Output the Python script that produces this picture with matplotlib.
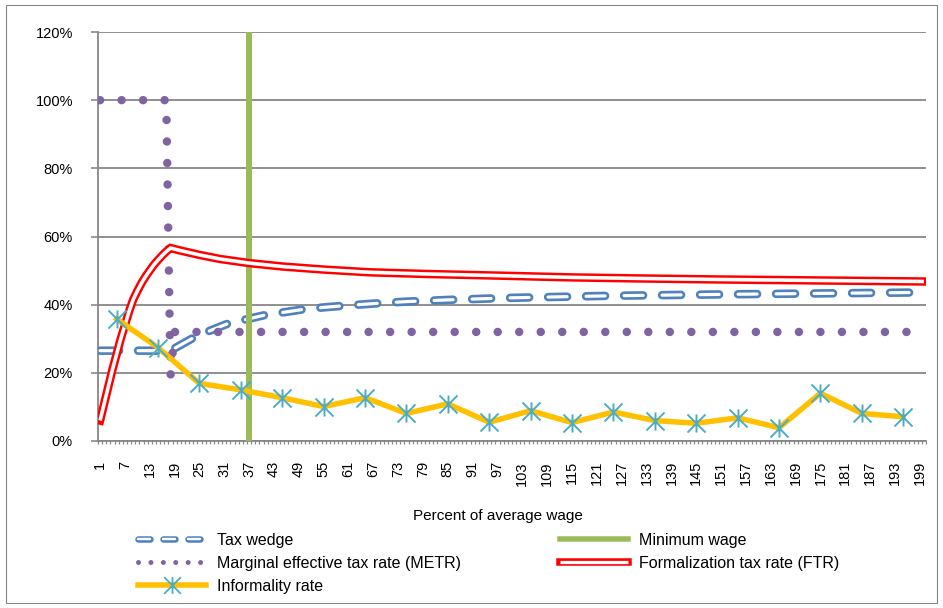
import matplotlib
matplotlib.use("Agg")
import matplotlib.pyplot as plt
from matplotlib.lines import Line2D
from matplotlib.path import Path
from matplotlib.patches import Rectangle
from matplotlib import font_manager

names = {f.name for f in font_manager.fontManager.ttflist}
base = "Liberation Sans" if "Liberation Sans" in names else "DejaVu Sans"
plt.rcParams["font.family"] = [base, "DejaVu Sans"]
plt.rcParams["lines.scale_dashes"] = False

# ---------------- data ----------------
categories = list(range(1, 201))
xtick_values = list(range(1, 200, 6))
xtick_labels = [str(v) for v in xtick_values]
ytick_values = [0, 20, 40, 60, 80, 100, 120]
ytick_labels = ["0%", "20%", "40%", "60%", "80%", "100%", "120%"]

tax_wedge_x = [1, 18, 24, 27, 32, 36, 41, 45, 50, 55, 60, 68, 75, 85, 100, 124, 150, 175, 200]
tax_wedge_y = [26.5, 26.5, 30.6, 32.1, 34.5, 35.6, 37.0, 37.7, 38.6, 39.2, 39.7, 40.4, 40.9,
               41.4, 42.0, 42.6, 43.0, 43.3, 43.6]

min_wage_x = 37
min_wage_y = [0, 120]

metr_x = [1, 17, 18, 19, 200]
metr_y = [100, 100, 19, 32, 32]

ftr_x = [1, 2, 3, 4, 5, 6, 7, 8, 9, 10, 11, 12, 13, 14, 15, 16, 17, 18,
         19, 20, 25, 30, 37, 45, 55, 66, 80, 98, 115, 131, 150, 175, 200]
ftr_y = [6.0, 11.0, 16.0, 21.0, 25.5, 30.0, 34.0, 38.0, 41.5, 44.0, 46.3, 48.3, 50.0, 51.7,
         53.1, 54.4, 55.6, 56.6, 56.3, 56.0, 54.6, 53.4, 52.2, 51.2, 50.3, 49.5, 49.0, 48.5,
         48.0, 47.7, 47.4, 47.1, 46.8]

informality_x = [5, 15, 25, 35, 45, 55, 65, 75, 85, 95, 105, 115, 125, 135, 145, 155, 165,
                 175, 185, 195]
informality_y = [35.8, 27.4, 16.9, 15.0, 12.7, 10.1, 12.7, 8.1, 10.9, 5.5, 8.9, 5.4, 8.5,
                 6.0, 5.2, 6.8, 3.9, 14.0, 8.1, 7.1]

labels = ["Tax wedge", "Minimum wage", "Marginal effective tax rate (METR)",
          "Formalization tax rate (FTR)", "Informality rate"]

# ---------------- styling ----------------
PX = 0.72  # points per pixel at dpi 100
C_TW = "#4F81BD"
C_MW = "#9BBB59"
C_METR = "#8064A2"
C_FTR = "#FF0000"
C_INF = "#FFC000"
C_STAR = "#4BACC6"
C_GRID = "#868686"

star = Path([(0, -1), (0, 1), (-1, -1), (1, 1), (-1, 1), (1, -1)],
            [Path.MOVETO, Path.LINETO, Path.MOVETO, Path.LINETO, Path.MOVETO, Path.LINETO])

W, H = 943, 608
fig = plt.figure(figsize=(W / 100, H / 100), dpi=100)
ax = fig.add_axes([98 / W, 1 - 441 / H, (926 - 98) / W, (441 - 32) / H])

# Tax wedge (double dashed)
tw_dash = (19 * PX, 19 * PX)
ax.plot(tax_wedge_x, tax_wedge_y, color=C_TW, lw=8.5 * PX, dashes=tw_dash,
        dash_capstyle="round", zorder=3)
ax.plot(tax_wedge_x, tax_wedge_y, color="white", lw=3.2 * PX, dashes=tw_dash,
        dash_capstyle="round", zorder=3.1)

# Minimum wage
ax.plot([min_wage_x, min_wage_x], min_wage_y, color=C_MW, lw=6 * PX, zorder=4,
        solid_capstyle="butt")

# METR dotted
ax.plot(metr_x, metr_y, color=C_METR, lw=8.5 * PX, dashes=(0.01, 21.5 * PX),
        dash_capstyle="round", zorder=5)

# FTR double line
ax.plot(ftr_x, ftr_y, color=C_FTR, lw=8.5 * PX, solid_capstyle="projecting",
        solid_joinstyle="miter", zorder=6)
ax.plot(ftr_x, ftr_y, color="white", lw=3.6 * PX, solid_capstyle="butt",
        solid_joinstyle="miter", zorder=6.1)

# Informality
ax.plot(informality_x, informality_y, color=C_INF, lw=5.5 * PX, zorder=7,
        solid_joinstyle="round")
ax.plot(informality_x, informality_y, ls="none", marker=star, ms=13,
        mec=C_STAR, mew=1.4, zorder=8)

# axes
ax.set_xlim(0.5, 200.5)
ax.set_ylim(0, 120)
ax.set_xticks(xtick_values)
ax.set_xticklabels(xtick_labels, rotation=90, fontsize=10.5)
ax.set_xticks([c - 0.5 for c in categories] + [200.5], minor=True)
ax.tick_params(axis="x", which="major", length=0, pad=20 * PX)
ax.tick_params(axis="x", which="minor", length=3 * PX, width=1.2 * PX, color=C_GRID)
ax.set_yticks(ytick_values)
ax.set_yticklabels(ytick_labels, fontsize=10.5)
ax.tick_params(axis="y", which="major", length=7 * PX, width=1.6 * PX, color=C_GRID,
               pad=18 * PX)
ax.yaxis.grid(True, color=C_GRID, lw=1.8 * PX)
ax.set_axisbelow(True)
for s in ("top", "right"):
    ax.spines[s].set_visible(False)
for s in ("left", "bottom"):
    ax.spines[s].set_color(C_GRID)
    ax.spines[s].set_linewidth(1.8 * PX)

fig.text(498 / W, 1 - 516 / H, "Percent of average wage", ha="center", va="center",
         fontsize=11)

# legends
h_tw = (Line2D([], [], color=C_TW, lw=6.5 * PX, dashes=(12 * PX, 13 * PX), dash_capstyle="round"),
        Line2D([], [], color="white", lw=2.4 * PX, dashes=(12 * PX, 13 * PX), dash_capstyle="round"))
h_metr = Line2D([], [], color=C_METR, lw=5 * PX, dashes=(0.01, 12.4 * PX), dash_capstyle="round")
h_inf = Line2D([], [], color=C_INF, lw=5.5 * PX, marker=star, ms=12, mec=C_STAR, mew=1.3)
h_mw = Line2D([], [], color=C_MW, lw=5.5 * PX)
h_ftr = (Line2D([], [], color=C_FTR, lw=7.5 * PX, solid_capstyle="projecting"),
         Line2D([], [], color="white", lw=3.2 * PX, solid_capstyle="butt"))

common = dict(loc="upper left", frameon=False, fontsize=11.5, handlelength=68 * PX / 11.5,
              handletextpad=11 * PX / 11.5, labelspacing=0.5, borderpad=0, borderaxespad=0,
              numpoints=1)
leg1 = fig.legend([h_tw, h_metr, h_inf], [labels[0], labels[2], labels[4]],
                  bbox_to_anchor=(138 / W, 1 - 533 / H), **common)
leg2 = fig.legend([h_mw, h_ftr], [labels[1], labels[3]],
                  bbox_to_anchor=(560 / W, 1 - 533 / H), **common)

fig.add_artist(Rectangle((6 / W, 5 / H), (937 - 6) / W, (603 - 5) / H,
                         transform=fig.transFigure, fill=False, ec=C_GRID, lw=0.8))

fig.savefig("out.png", dpi=100)
